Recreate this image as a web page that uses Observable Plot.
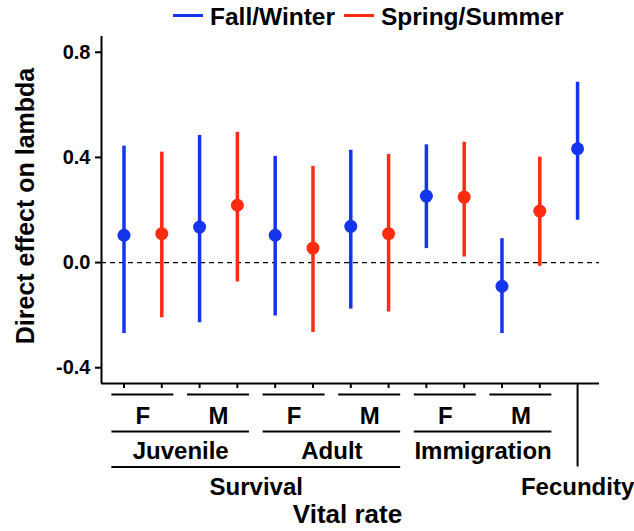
<!DOCTYPE html>
<html><head><meta charset="utf-8">
<script src="https://cdn.jsdelivr.net/npm/d3@7"></script>
<script src="https://cdn.jsdelivr.net/npm/@observablehq/plot@0.6"></script>
<style>
body{margin:0;background:#fff;}
#wrap{width:634px;font-family:"Liberation Sans",Arial,sans-serif;font-weight:bold;color:#000;}
#legend{position:relative;height:30px;width:634px;font-size:24.5px;}
#legend .sw{position:absolute;top:14px;width:30px;height:3px;}
#legend .lb{position:absolute;top:2px;line-height:30px;white-space:nowrap;}
</style></head><body><div id="wrap"><div id="legend"></div><div id="chart"></div></div>
<script>
// ---- data ----
const seasons = ["Fall/Winter", "Spring/Summer"];
const seasonColors = ["#1434ee", "#ff2c12"];
const level3 = ["Survival","Survival","Survival","Survival","Survival","Survival","Survival","Survival","","","","","Fecundity"];
const level2 = ["Juvenile","Juvenile","Juvenile","Juvenile","Adult","Adult","Adult","Adult","Immigration","Immigration","Immigration","Immigration",""];
const level1 = ["F","F","M","M","F","F","M","M","F","F","M","M",""];
const season = ["Fall/Winter","Spring/Summer","Fall/Winter","Spring/Summer","Fall/Winter","Spring/Summer","Fall/Winter","Spring/Summer","Fall/Winter","Spring/Summer","Fall/Winter","Spring/Summer","Fall/Winter"];
const estimate = [0.104, 0.110, 0.135, 0.218, 0.104, 0.055, 0.138, 0.110, 0.253, 0.249, -0.090, 0.196, 0.433];
const lower    = [-0.270, -0.210, -0.229, -0.074, -0.203, -0.266, -0.177, -0.188, 0.053, 0.021, -0.270, -0.014, 0.161];
const upper    = [0.443, 0.420, 0.483, 0.496, 0.404, 0.366, 0.427, 0.411, 0.448, 0.458, 0.091, 0.401, 0.686];
const yTicks = [-0.4, 0.0, 0.4, 0.8];
const xTitle = "Vital rate";
const yTitle = "Direct effect on lambda";

// ---- derived ----
const rows = estimate.map((e, i) => ({i, season: season[i], est: e, lo: lower[i], hi: upper[i]}));
function spans(labels) {
  const out = [];
  labels.forEach((l, i) => {
    if (!l) return;
    const last = out[out.length - 1];
    if (last && last.label === l && last.end === i - 1) last.end = i;
    else out.push({label: l, start: i, end: i});
  });
  return out;
}
const l1 = spans(level1), l2 = spans(level2), l3 = spans(level3);
const l3h = l3.filter(d => d.end > d.start), l3v = l3.filter(d => d.end === d.start);
const tickIdx = rows.filter(d => level1[d.i]).map(d => d.i);
const xDomain = [-0.595, 12.58];
const yDomain = [-0.46, 0.86];
const yMin = yDomain[0];
const pad = 0.32;
const color = s => seasonColors[seasons.indexOf(s)];
const mid = d => (d.start + d.end) / 2;

// ---- legend ----
const legend = document.getElementById("legend");
const legendPos = [[173, 210], [344, 381]];
seasons.forEach((s, k) => {
  const sw = document.createElement("div");
  sw.className = "sw"; sw.style.left = legendPos[k][0] + "px"; sw.style.background = seasonColors[k];
  const lb = document.createElement("div");
  lb.className = "lb"; lb.style.left = legendPos[k][1] + "px"; lb.textContent = s;
  legend.append(sw, lb);
});

// ---- chart ----
const lab = {frameAnchor: "bottom", lineAnchor: "middle", textAnchor: "middle", fontSize: 24, fontWeight: "bold", fill: "#000"};
const chart = Plot.plot({
  width: 634,
  height: 501,
  marginLeft: 101,
  marginRight: 35,
  marginTop: 6,
  marginBottom: 148,
  style: {fontFamily: "Liberation Sans, Arial, sans-serif", fontWeight: "bold", color: "#000", background: "#fff"},
  x: {domain: xDomain, axis: null},
  y: {domain: yDomain, label: null},
  marks: [
    Plot.ruleY([0], {stroke: "#000", strokeWidth: 1.2, strokeDasharray: "5,4"}),
    Plot.ruleX(rows, {x: "i", y1: "lo", y2: "hi", stroke: d => color(d.season), strokeWidth: 3.5}),
    Plot.dot(rows, {x: "i", y: "est", r: 6.5, fill: d => color(d.season), stroke: null}),
    Plot.ruleX([xDomain[0]], {stroke: "#000", strokeWidth: 2}),
    Plot.ruleY([yDomain[0]], {stroke: "#000", strokeWidth: 2}),
    Plot.axisY(yTicks, {label: null, tickSize: 6, tickPadding: 5, fontSize: 20, fontWeight: "bold", strokeWidth: 2, tickFormat: d => d.toFixed(1)}),
    Plot.ruleX(tickIdx, {x: d => d, y1: yMin, y2: yMin, insetBottom: -5, stroke: "#000", strokeWidth: 2}),
    Plot.ruleY(l1, {x1: d => d.start - pad, x2: d => d.end + pad, y: () => yMin, dy: 11, stroke: "#000", strokeWidth: 2}),
    Plot.text(l1, {...lab, x: mid, text: "label", dy: 32.5}),
    Plot.ruleY(l2, {x1: d => d.start - pad, x2: d => d.end + pad, y: () => yMin, dy: 48, stroke: "#000", strokeWidth: 2}),
    Plot.text(l2, {...lab, x: mid, text: "label", dy: 67.7}),
    Plot.ruleY(l3h, {x1: d => d.start - pad, x2: d => d.end + pad, y: () => yMin, dy: 83.5, stroke: "#000", strokeWidth: 2}),
    Plot.ruleX(l3v, {x: mid, y1: yMin, y2: yMin, insetBottom: -83.5, stroke: "#000", strokeWidth: 2}),
    Plot.text(l3, {...lab, x: mid, text: "label", dy: 103.4}),
    Plot.text([xTitle], {...lab, dx: -3, dy: 131, fontSize: 26}),
    Plot.text([yTitle], {frameAnchor: "left", textAnchor: "middle", lineAnchor: "middle", dx: -76, dy: -4, rotate: -90, fontSize: 25, fontWeight: "bold", fill: "#000"})
  ]
});
document.getElementById("chart").append(chart);
</script>
</body></html>
